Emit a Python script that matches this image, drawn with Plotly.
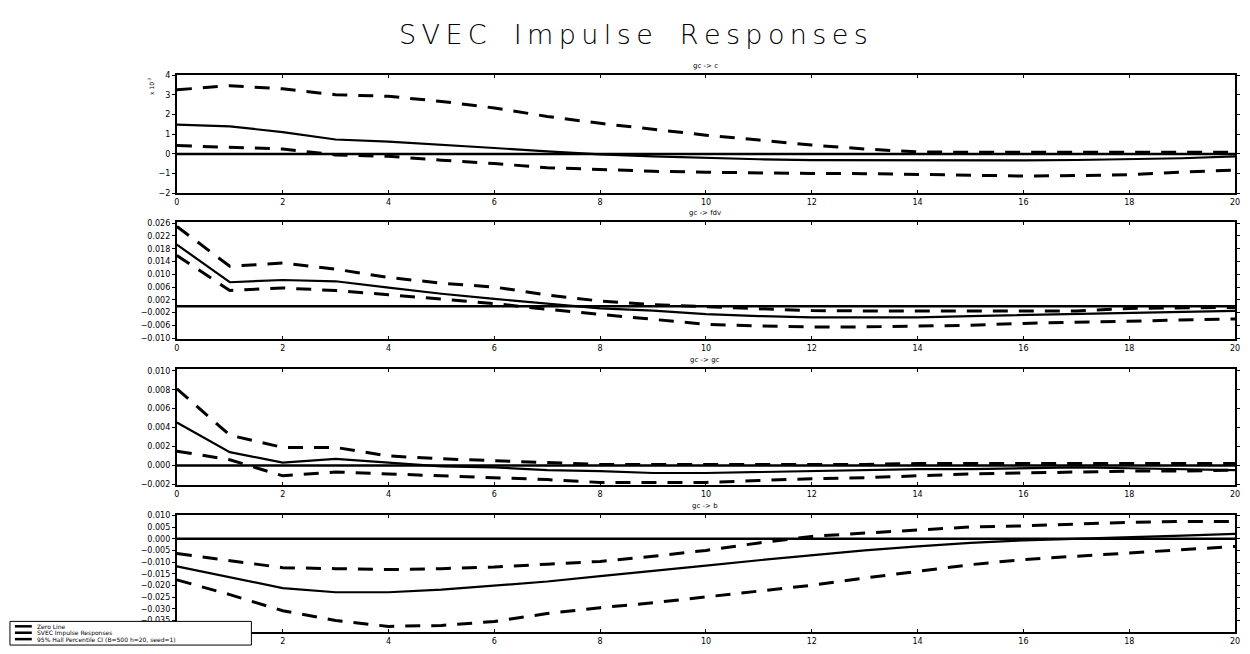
import plotly.graph_objects as go

# ---------------- data ----------------
horizon = list(range(21))
zero_line = [0.0] * 21

panel_titles = ["gc -> c", "gc -> fdv", "gc -> gc", "gc -> b"]

# panel 1 values in units of 1e-3
irf_1 = [1.48, 1.40, 1.10, 0.73, 0.62, 0.47, 0.30, 0.13, -0.02, -0.12, -0.20,
         -0.27, -0.32, -0.33, -0.33, -0.33, -0.33, -0.31, -0.28, -0.22, -0.12]
upper_1 = [3.25, 3.46, 3.30, 3.00, 2.92, 2.66, 2.33, 1.90, 1.55, 1.25, 0.95,
           0.70, 0.45, 0.25, 0.10, 0.08, 0.08, 0.08, 0.08, 0.08, 0.08]
lower_1 = [0.42, 0.35, 0.25, -0.05, -0.12, -0.32, -0.49, -0.70, -0.80, -0.88, -0.93,
           -0.97, -0.99, -1.00, -1.05, -1.10, -1.12, -1.10, -1.05, -0.92, -0.82]

irf_2 = [0.0193, 0.0075, 0.0082, 0.0078, 0.0058, 0.0039, 0.0023, 0.0008, -0.0007, -0.0014, -0.0025,
         -0.0031, -0.0035, -0.0035, -0.0035, -0.0031, -0.0028, -0.0025, -0.0021, -0.0017, -0.0015]
upper_2 = [0.0250, 0.0125, 0.0135, 0.0116, 0.0090, 0.0072, 0.0060, 0.0035, 0.0016, 0.0005, -0.0002,
           -0.0007, -0.0014, -0.0015, -0.0015, -0.0015, -0.0015, -0.0015, -0.0007, -0.0005, -0.0004]
lower_2 = [0.0159, 0.0049, 0.0057, 0.0049, 0.0036, 0.0021, 0.0008, -0.0010, -0.0025, -0.0041, -0.0057,
           -0.0062, -0.0065, -0.0065, -0.0063, -0.0060, -0.0054, -0.0051, -0.0047, -0.0043, -0.0040]

irf_3 = [0.00453, 0.0014, 0.0003, 0.0007, 0.0003, -0.0001, -0.0002, -0.0005, -0.0006, -0.0008, -0.0008,
         -0.0007, -0.0006, -0.0005, -0.0004, -0.0004, -0.0003, -0.0002, -0.0003, -0.0004, -0.0005]
upper_3 = [0.0081, 0.0032, 0.0019, 0.0019, 0.0010, 0.0007, 0.0005, 0.0003, 0.0001, 0.0001, 0.0001,
           0.0001, 0.0001, 0.0001, 0.0002, 0.0002, 0.0002, 0.0002, 0.0002, 0.0002, 0.0002]
lower_3 = [0.0015, 0.0006, -0.0011, -0.0007, -0.0009, -0.0011, -0.0013, -0.0015, -0.0018, -0.0018, -0.0018,
           -0.0016, -0.0014, -0.0013, -0.0011, -0.0009, -0.0008, -0.0007, -0.0006, -0.0006, -0.0005]

irf_4 = [-0.0118, -0.0163, -0.0211, -0.0229, -0.0229, -0.0218, -0.0201, -0.0183, -0.0160, -0.0136, -0.0115,
         -0.0092, -0.0071, -0.0050, -0.0033, -0.0018, -0.0007, -0.0001, 0.0007, 0.0013, 0.0021]
upper_4 = [-0.0063, -0.0093, -0.0124, -0.0128, -0.0132, -0.0128, -0.0121, -0.0109, -0.0097, -0.0075, -0.0050,
           -0.0018, 0.0010, 0.0024, 0.0038, 0.0050, 0.0055, 0.0064, 0.0070, 0.0074, 0.0074]
lower_4 = [-0.0176, -0.0239, -0.0308, -0.0350, -0.0375, -0.0371, -0.0354, -0.0320, -0.0295, -0.0274, -0.0249,
           -0.0224, -0.0199, -0.0168, -0.0139, -0.0111, -0.0089, -0.0075, -0.0058, -0.0047, -0.0033]

x_ticks = [0, 2, 4, 6, 8, 10, 12, 14, 16, 18, 20]
x_ticks_last = [2, 4, 6, 8, 10, 12, 14, 16, 18, 20]   # "0" is hidden under the legend box
y_ticks_1 = [-2, -1, 0, 1, 2, 3, 4]
y_ticks_2 = [-0.010, -0.006, -0.002, 0.002, 0.006, 0.010, 0.014, 0.018, 0.022, 0.026]
y_ticks_3 = [-0.002, 0.000, 0.002, 0.004, 0.006, 0.008, 0.010]
y_ticks_4 = [-0.035, -0.030, -0.025, -0.020, -0.015, -0.010, -0.005, 0.000, 0.005, 0.010]

legend_labels = ["Zero Line", "SVEC Impulse Responses", "95% Hall Percentile CI (B=500 h=20, seed=1)"]

# ---------------- layout helpers ----------------
W, H = 1250, 654
FONT = "DejaVu Sans"


def py(pix):
    return 1 - pix / H


x_dom = [175 / W, 1240 / W]
boxes = [(72, 192), (221, 340), (370, 488), (518, 637)]
y_ranges = [[-2, 4], [-0.0104, 0.0264], [-0.0021, 0.0102], [-0.040, 0.0102]]
y_ticks = [y_ticks_1, y_ticks_2, y_ticks_3, y_ticks_4]
x_tick_sets = [x_ticks, x_ticks, x_ticks, x_ticks_last]
y_fmt = ["d", ".3f", ".3f", ".3f"]

panels = [(irf_1, upper_1, lower_1), (irf_2, upper_2, lower_2),
          (irf_3, upper_3, lower_3), (irf_4, upper_4, lower_4)]

fig = go.Figure()
layout = dict(width=W, height=H, margin=dict(l=0, r=0, t=0, b=0),
              paper_bgcolor="white", plot_bgcolor="white", showlegend=False)
annotations = []
shapes = []

for i, (irf, up, lo) in enumerate(panels):
    n = i + 1
    xa = "x" if n == 1 else f"x{n}"
    ya = "y" if n == 1 else f"y{n}"
    fig.add_trace(go.Scatter(x=horizon, y=zero_line, mode="lines", xaxis=xa, yaxis=ya,
                             line=dict(color="black", width=2.5)))
    fig.add_trace(go.Scatter(x=horizon, y=up, mode="lines", xaxis=xa, yaxis=ya,
                             line=dict(color="black", width=3, dash="15px,11px")))
    fig.add_trace(go.Scatter(x=horizon, y=lo, mode="lines", xaxis=xa, yaxis=ya,
                             line=dict(color="black", width=3, dash="15px,11px")))
    fig.add_trace(go.Scatter(x=horizon, y=irf, mode="lines", xaxis=xa, yaxis=ya,
                             line=dict(color="black", width=2.2)))
    top, bot = boxes[i]
    layout["xaxis" if n == 1 else f"xaxis{n}"] = dict(
        domain=x_dom, anchor=ya, range=[0, 20], tickvals=x_tick_sets[i], showgrid=False, zeroline=False,
        showline=True, linecolor="black", linewidth=2, mirror="ticks", ticks="inside", ticklen=3,
        tickcolor="black", tickfont=dict(family=FONT, size=8, color="black"))
    layout["yaxis" if n == 1 else f"yaxis{n}"] = dict(
        domain=[py(bot), py(top)], anchor=xa, range=y_ranges[i], tickvals=y_ticks[i],
        tickformat=y_fmt[i], showgrid=False, zeroline=False, showline=True, linecolor="black",
        linewidth=2, mirror="ticks", ticks="outside", ticklen=3, tickcolor="black",
        tickfont=dict(family=FONT, size=8, color="black"))
    annotations.append(dict(text=panel_titles[i], xref="paper", yref="paper", x=707 / W,
                            y=py(top - 9), xanchor="center", yanchor="middle", showarrow=False,
                            font=dict(family=FONT, size=7, color="black")))

annotations.append(dict(text="x 10<sup>-3</sup>", xref="paper", yref="paper", x=149 / W,
                        y=py(72), xanchor="center", yanchor="top", textangle=-90,
                        showarrow=False, font=dict(family=FONT, size=6, color="black")))

# title
annotations.append(dict(text="\u2009".join("SVEC Impulse Responses").replace("\u2009 \u2009", "\u2003"),
                        xref="paper", yref="paper", x=635 / W, y=py(31), xanchor="center",
                        yanchor="middle", showarrow=False,
                        font=dict(family=FONT, size=27, color="black", weight=300)))

# manual legend
shapes.append(dict(type="rect", xref="paper", yref="paper", x0=7 / W, x1=250 / W,
                   y0=py(650), y1=py(626), line=dict(color="black", width=1), fillcolor="white"))
for k, lab in enumerate(legend_labels):
    yy = 631 + k * 6.5
    shapes.append(dict(type="line", xref="paper", yref="paper", x0=12 / W, x1=29 / W,
                       y0=py(yy), y1=py(yy), line=dict(color="black", width=2.5)))
    annotations.append(dict(text=lab, xref="paper", yref="paper", x=32 / W, y=py(yy),
                            xanchor="left", yanchor="middle", showarrow=False,
                            font=dict(family=FONT, size=6, color="black")))

layout["annotations"] = annotations
layout["shapes"] = shapes
fig.update_layout(**layout)

fig.write_html("out.html", config={"displayModeBar": False},
               post_script="document.body.style.margin='0';")
